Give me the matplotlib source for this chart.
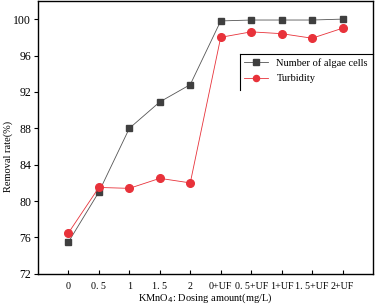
import matplotlib.pyplot as plt

plt.rcParams['font.family'] = ['Liberation Serif', 'DejaVu Serif']

dosage = ['0', '0. 5', '1', '1. 5', '2', '0+UF', '0. 5+UF', '1+UF', '1. 5+UF', '2+UF']
algae_cells = [75.5, 81.0, 88.0, 90.9, 92.8, 99.8, 99.9, 99.9, 99.9, 100.0]
turbidity = [76.5, 81.5, 81.4, 82.5, 82.0, 98.0, 98.6, 98.4, 97.9, 99.0]

fig = plt.figure(figsize=(3.76, 3.05), dpi=100)
ax = fig.add_axes([0.101, 0.102, 0.891, 0.895])

x = list(range(len(dosage)))
ax.plot(x, algae_cells, color='#555555', lw=0.6, marker='s', ms=5,
        mfc='#3f3f3f', mec='#3f3f3f', label='Number of algae cells')
ax.plot(x, turbidity, color='#e8323a', lw=0.6, marker='o', ms=5.5,
        mfc='#e8323a', mec='#e8323a', label='Turbidity')

ax.set_xlim(-1, 10)
ax.set_ylim(72, 102)
ax.set_xticks(x)
ax.set_xticklabels(dosage, fontsize=7.2)
ax.set_yticks([72, 76, 80, 84, 88, 92, 96, 100])
ax.tick_params(axis='y', direction='out', length=3, labelsize=8.5, width=0.8, pad=2)
ax.tick_params(axis='x', direction='in', length=3, labelsize=7.2, width=0.8, pad=6)
for s in ax.spines.values():
    s.set_linewidth(1.0)

ax.set_ylabel('Removal rate(%)', fontsize=7.5, va='center')
ax.yaxis.set_label_coords(-0.088, 0.43)
ax.set_xlabel('KMnO$_4$: Dosing amount(mg/L)', fontsize=7.5, va='center')
ax.xaxis.set_label_coords(0.5, -0.088)

ax.legend(loc='upper left', bbox_to_anchor=(0.603, 0.806), frameon=False,
          fontsize=7.5, handlelength=2.3, borderaxespad=0.0, borderpad=0.4,
          labelspacing=0.6, markerscale=0.8)
# partial legend frame (top and left edges)
ax.plot([0.603, 1.0], [0.806, 0.806], transform=ax.transAxes, color='black',
        lw=0.8, clip_on=False)
ax.plot([0.603, 0.603], [0.806, 0.674], transform=ax.transAxes, color='black',
        lw=0.8, clip_on=False)

fig.savefig('out.png', dpi=100)
